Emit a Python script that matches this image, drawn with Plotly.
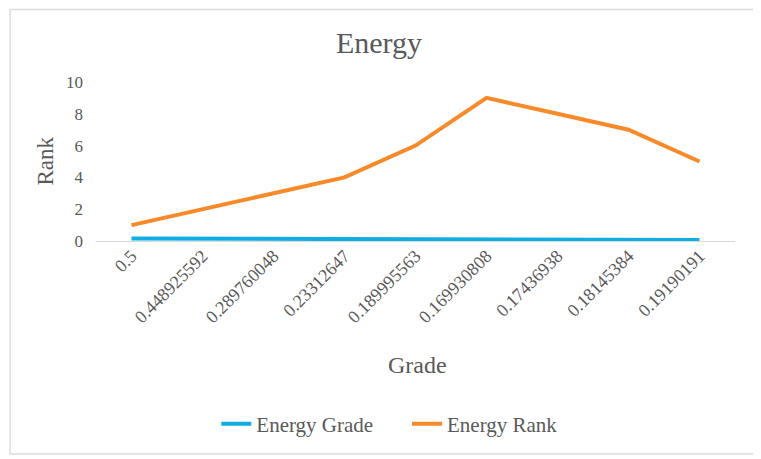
import plotly.graph_objects as go

grades = ["0.5", "0.448925592", "0.289760048", "0.23312647", "0.189995563",
          "0.169930808", "0.17436938", "0.18145384", "0.19190191"]
energy_grade = [0.16, 0.15, 0.10, 0.075, 0.06, 0.055, 0.055, 0.06, 0.06]
energy_rank = [1, 2, 3, 4, 6, 9, 8, 7, 5]

FONT = "Liberation Serif"
GREY = "#595959"

# page body has an 8px offset; plot area in window: x 95.5-735.5, y 82-241
W, H = 753, 451
L, T = 87.5, 74
PW, PH = 640, 159


def px(xw):
    return (xw - 8 - L) / PW


def py(yw):
    return (T + PH - (yw - 8)) / PH


fig = go.Figure()
fig.add_trace(go.Scatter(x=grades, y=energy_grade, mode="lines", name="Energy Grade",
                         line=dict(color="#0FADE3", width=4), legend="legend"))
fig.add_trace(go.Scatter(x=grades, y=energy_rank, mode="lines", name="Energy Rank",
                         line=dict(color="#F98A2A", width=4), legend="legend2"))

leg_common = dict(orientation="h", xanchor="left", yanchor="middle", y=py(424),
                  font=dict(family=FONT, size=21, color=GREY), bgcolor="rgba(0,0,0,0)")

fig.update_layout(
    width=W, height=H,
    margin=dict(l=L, r=W - L - PW, t=T, b=H - T - PH, autoexpand=False),
    paper_bgcolor="white", plot_bgcolor="white",
    font=dict(family=FONT, color=GREY, size=17),
    title=dict(text="Energy", x=(379 - 8) / W, xanchor="center", y=1 - (42 - 8) / H,
               yanchor="middle", font=dict(family=FONT, size=30, color=GREY)),
    showlegend=True,
    legend=dict(x=px(216), **leg_common),
    legend2=dict(x=px(407), **leg_common),
    xaxis=dict(type="category", range=[-0.5, 8.5], tickangle=-45, showgrid=False,
               showline=False, zeroline=False, ticks="",
               tickfont=dict(family=FONT, size=18, color=GREY)),
    yaxis=dict(range=[0, 10], dtick=2, showgrid=False, zeroline=True,
               zerolinecolor="#D9D9D9", zerolinewidth=1, showline=False, ticks="",
               tickfont=dict(family=FONT, size=17, color=GREY), ticklabelstandoff=12),
    annotations=[
        dict(text="Grade", xref="paper", yref="paper", x=px(418), y=py(365),
             showarrow=False, font=dict(family=FONT, size=24, color=GREY),
             xanchor="center", yanchor="middle"),
        dict(text="Rank", xref="paper", yref="paper", x=px(44), y=py(161),
             showarrow=False, textangle=-90, font=dict(family=FONT, size=23, color=GREY),
             xanchor="center", yanchor="middle"),
    ],
    shapes=[dict(type="rect", xref="paper", yref="paper",
                 x0=px(9.5), x1=px(757), y0=py(454), y1=py(9.5),
                 line=dict(color="#DCDCDC", width=1.5), layer="below")],
)

fig.write_html("out.html")
